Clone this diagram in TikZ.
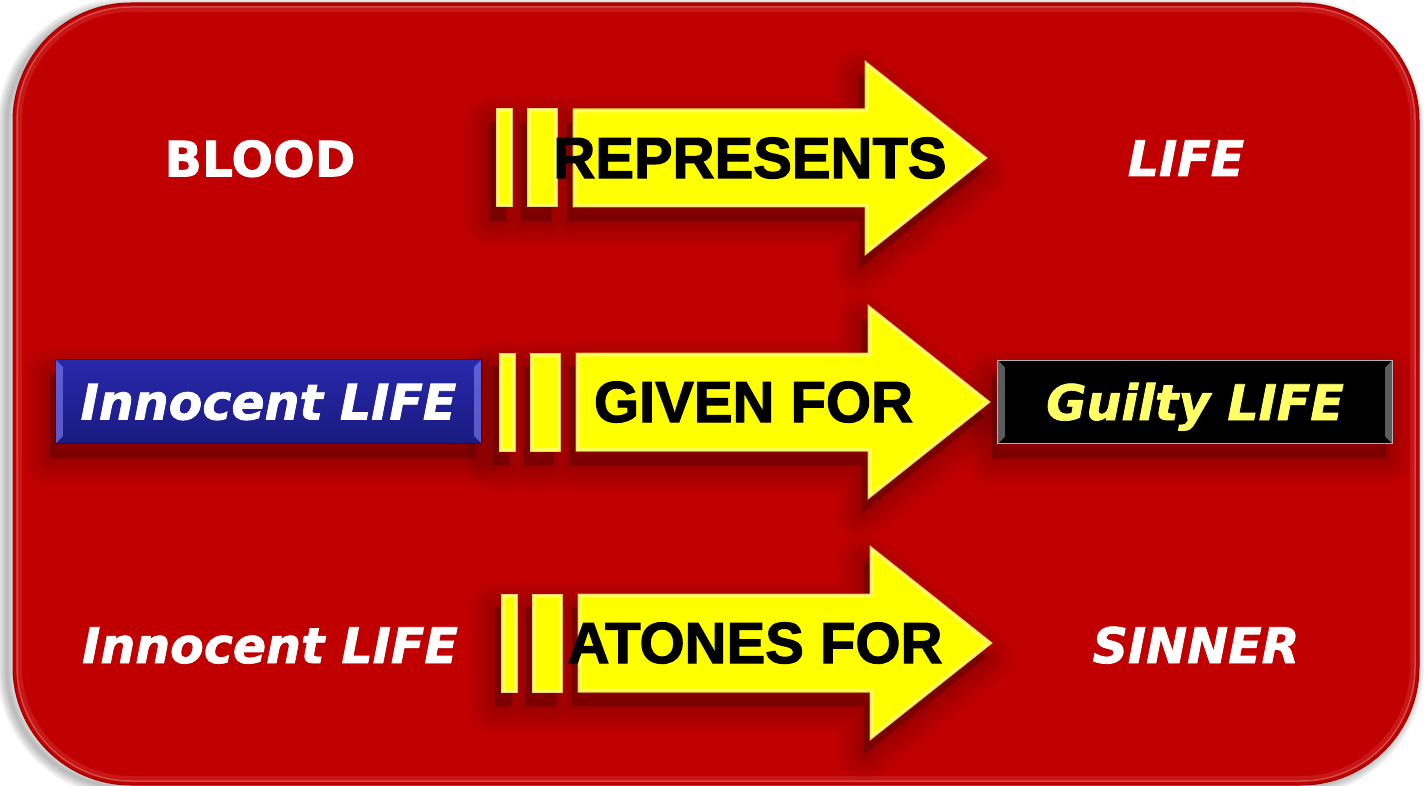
\documentclass[tikz,border=0pt]{standalone}
\usepackage{fontspec}
\newfontfamily\vbold{DejaVu Sans Bold}[FakeBold=1.5]
\newfontfamily\vboldit{DejaVu Sans Bold Oblique}[FakeBold=1.5]
\newfontfamily\abold{Liberation Sans Bold}[FakeBold=2]
\definecolor{bgred}{RGB}{192,0,0}
\definecolor{ayellow}{RGB}{255,255,0}
\definecolor{aedge}{RGB}{225,195,40}
\definecolor{blueT}{RGB}{40,40,172}
\definecolor{blueB}{RGB}{26,26,128}
\definecolor{gyellow}{RGB}{255,255,102}
\def\stripeA{(0,-49) rectangle (16,49)}
\def\stripeB{(31,-49) rectangle (61,49)}
\def\arrowbody{(77,-49) -- (369,-49) -- (369,-97) -- (491,0) -- (369,97) -- (369,49) -- (77,49) -- cycle}
\newcommand\yshape[1]{%
  \path[fill=ayellow, draw=aedge, line width=1pt] #1;
  \begin{scope}
    \clip #1;
    \draw[white, opacity=.35, line width=7pt, line join=miter] #1;
  \end{scope}}
\newcommand\yarrow[2]{%
  \begin{scope}[shift={(#1,#2)}]
    \begin{scope}[shift={(-6,14)}]
      \foreach \i in {1,...,12}{
        \path[fill=black, draw=black, fill opacity=0.016, draw opacity=0.016,
              line width=\i*4.5pt, line join=round] \stripeA \stripeB \arrowbody;
      }
    \end{scope}
    \yshape{\stripeA}
    \yshape{\stripeB}
    \yshape{\arrowbody}
  \end{scope}}
\begin{document}
\begin{tikzpicture}[x=1pt,y=-1pt,
  wtext/.style={text=white, inner sep=0pt, text height=36pt, text depth=0pt,
                font=\vboldit\fontsize{49pt}{49pt}\selectfont},
  ktext/.style={text=black, inner sep=0pt, text height=41pt, text depth=0pt,
                font=\abold\fontsize{58pt}{58pt}\selectfont},
  boxnode/.style={inner sep=0pt, minimum height=83pt, text height=36pt, text depth=0pt,
                font=\vboldit\fontsize{49pt}{49pt}\selectfont}]
\useasboundingbox (0,0) rectangle (1426,786);
\fill[white] (0,0) rectangle (1426,786);
% outer soft shadow of the panel
\foreach \i in {1,...,8}{
  \draw[black, opacity=0.035, line width=\i*2.5pt, rounded corners=118pt] (7,8) rectangle (1414,787);
}
% red panel
\fill[bgred, rounded corners=118pt] (13,3) rectangle (1419,785);
\draw[red!60!black, line width=1pt, rounded corners=118pt] (13,3) rectangle (1419,785);
\draw[white, opacity=.3, line width=1.5pt, rounded corners=114pt] (17,7) rectangle (1415,781);
\draw[red!40!white, opacity=.15, line width=4pt, rounded corners=111pt] (20,10) rectangle (1412,778);

% box shadows
\foreach \i in {1,...,12}{
  \path[fill=black, draw=black, fill opacity=0.016, draw opacity=0.016, line width=\i*4.5pt, line join=round]
    (50,375) rectangle (475,458) (992,376) rectangle (1386,458);
}

% arrows
\yarrow{496}{158}
\yarrow{499}{402}
\yarrow{501}{643}

% row 1
\node[wtext, font=\vbold\fontsize{49pt}{49pt}\selectfont] (blood) at (260,158.5) {BLOOD};
\node[ktext] (rep) at (750,157.5) {REPRESENTS};
\node[wtext] (life) at (1186,158) {LIFE};

% row 2
\node[boxnode, top color=blueT, bottom color=blueB, minimum width=425pt, text=white] (inno) at (268.5,401.5) {Innocent LIFE};
\fill[blue!45!white, opacity=.55] (inno.north west) -- ([shift={(7,7)}]inno.north west) -- ([shift={(7,-7)}]inno.south west) -- (inno.south west) -- cycle;
\fill[blue!45!white, opacity=.55] (inno.north east) -- ([shift={(-7,7)}]inno.north east) -- ([shift={(-7,-7)}]inno.south east) -- (inno.south east) -- cycle;
\draw[blueB!70!black, line width=1pt] (inno.north west) rectangle (inno.south east);
\node[ktext] (given) at (753.5,401.5) {GIVEN FOR};
\node[boxnode, fill=black, minimum width=394pt, text=gyellow] (guilty) at (1195,402) {Guilty LIFE};
\fill[gray!80, opacity=.6] (guilty.north west) -- ([shift={(7,7)}]guilty.north west) -- ([shift={(7,-7)}]guilty.south west) -- (guilty.south west) -- cycle;
\fill[gray!80, opacity=.6] (guilty.north east) -- ([shift={(-7,7)}]guilty.north east) -- ([shift={(-7,-7)}]guilty.south east) -- (guilty.south east) -- cycle;
\draw[gray!60, line width=1pt] (guilty.north west) rectangle (guilty.south east);

% row 3
\node[wtext] (inno3) at (270,645) {Innocent LIFE};
\node[ktext] (atones) at (755,642.5) {ATONES FOR};
\node[wtext] (sinner) at (1196,645) {SINNER};
\end{tikzpicture}
\end{document}
